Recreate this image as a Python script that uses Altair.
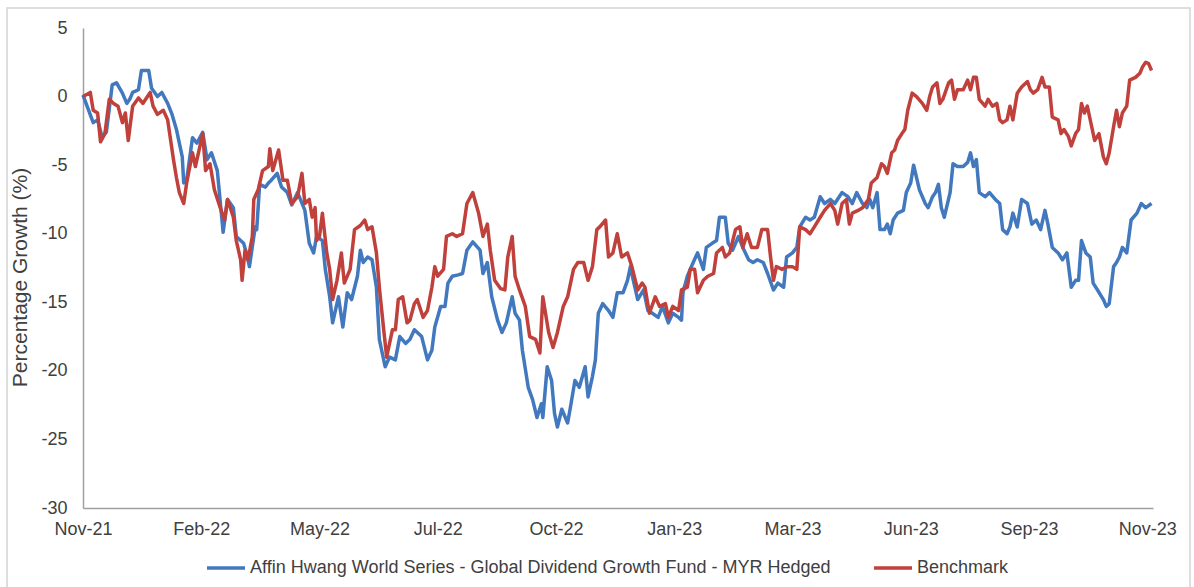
import altair as alt
import pandas as pd

FUND_NAME = "Affin Hwang World Series - Global Dividend Growth Fund - MYR Hedged"
BENCH_NAME = "Benchmark"

# (days since late Nov-2021, percentage growth)
fund = [
    (0, 0.1), (7, -1.9), (10, -1.7), (13, -2.9), (16, -2.6), (20, 0.85), (23, 1.0), (27, 0.25), (30, -0.5), (32, -0.2),
    (34, 0.3), (38, 0.5), (40, 1.9), (45, 1.9), (47, 0.6), (51, 0.0), (54, 0.3), (58, -0.5), (61, -1.3), (64, -2.4),
    (66, -3.4), (68, -4.4), (69, -6.3), (71, -6.1), (75, -3.0), (78, -3.4), (82, -2.6), (85, -4.6), (88, -4.1), (92, -5.4),
    (96, -9.9), (99, -7.5), (103, -8.1), (105, -10.2), (110, -10.7), (112, -11.4), (114, -12.4), (118, -9.5), (119, -9.7), (121, -6.4),
    (125, -6.6), (127, -6.3), (129, -6.1), (133, -5.6), (136, -6.6), (140, -7.0), (143, -7.9), (147, -7.0), (152, -8.3), (155, -10.7),
    (158, -11.4), (160, -10.2), (164, -10.5), (166, -12.6), (169, -14.6), (171, -16.5), (175, -14.6), (178, -16.8), (181, -14.3), (184, -14.8),
    (188, -13.1), (190, -11.2), (192, -12.1), (195, -11.7), (198, -11.9), (201, -13.9), (203, -17.7), (207, -19.7), (210, -19.0), (214, -19.2),
    (217, -17.5), (221, -18.0), (224, -17.7), (227, -17.0), (232, -17.5), (236, -19.2), (239, -18.5), (241, -16.8), (245, -15.3), (248, -15.3),
    (250, -13.6), (253, -13.1), (257, -13.0), (260, -12.9), (263, -11.2), (267, -10.6), (272, -11.2), (274, -12.9), (277, -12.1), (280, -14.6),
    (284, -16.3), (287, -17.2), (290, -16.5), (294, -14.6), (296, -15.8), (299, -16.3), (301, -18.5), (305, -21.2), (308, -22.1), (311, -23.4),
    (314, -22.4), (315, -23.4), (318, -19.7), (321, -20.7), (323, -23.1), (325, -24.1), (328, -22.8), (332, -23.8), (334, -22.6), (337, -20.7),
    (340, -21.2), (344, -19.7), (346, -21.9), (349, -20.4), (351, -19.2), (353, -15.8), (356, -15.1), (360, -15.6), (363, -16.1), (366, -14.3),
    (370, -14.3), (373, -13.4), (375, -12.4), (377, -13.4), (380, -14.8), (384, -14.1), (387, -15.6), (390, -15.8), (394, -16.1), (397, -15.3),
    (401, -16.5), (404, -15.8), (408, -16.1), (410, -16.3), (411, -14.3), (414, -13.1), (418, -12.1), (421, -11.4), (425, -12.6), (427, -11.0),
    (431, -10.7), (434, -10.5), (436, -8.8), (440, -8.8), (442, -10.7), (445, -11.2), (449, -10.2), (452, -11.0), (456, -11.9), (459, -12.1),
    (462, -11.9), (466, -12.1), (469, -12.9), (473, -14.1), (476, -13.6), (480, -13.9), (482, -11.7), (486, -11.4), (489, -11.0), (491, -9.5),
    (495, -8.8), (498, -9.0), (501, -8.8), (505, -7.3), (508, -7.8), (512, -7.5), (515, -7.8), (520, -7.0), (524, -7.3), (527, -7.8),
    (530, -7.0), (534, -7.8), (537, -8.1), (539, -7.5), (541, -8.1), (544, -7.0), (546, -9.7), (549, -9.7), (551, -9.3), (553, -10.0),
    (555, -9.0), (558, -8.5), (562, -8.3), (564, -7.0), (567, -6.3), (569, -5.0), (571, -5.9), (573, -6.8), (577, -7.8), (579, -8.1),
    (582, -7.3), (584, -7.0), (586, -6.4), (588, -8.1), (590, -8.8), (594, -7.0), (596, -4.9), (599, -5.1), (603, -5.1), (606, -4.8),
    (608, -4.1), (610, -5.1), (612, -4.6), (614, -7.0), (618, -7.3), (621, -7.0), (625, -7.5), (628, -7.8), (630, -9.7), (633, -10.0),
    (635, -9.5), (637, -8.5), (640, -9.5), (643, -7.5), (647, -7.8), (650, -9.3), (653, -9.0), (656, -9.7), (659, -8.3), (661, -9.3),
    (664, -11.0), (668, -11.4), (671, -11.9), (674, -11.4), (677, -13.9), (680, -13.4), (682, -13.4), (684, -10.5), (687, -11.4), (690, -11.7),
    (692, -13.6), (695, -14.1), (699, -14.8), (701, -15.3), (703, -15.1), (706, -12.4), (708, -12.1), (710, -11.7), (712, -11.0), (715, -11.4),
    (718, -9.0), (722, -8.5), (725, -7.8), (728, -8.1), (732, -7.8),
]

bench = [
    (0, 0.0), (5, 0.3), (7, -1.0), (10, -1.2), (12, -3.3), (15, -2.7), (18, -0.2), (21, -0.5), (24, -0.7), (27, -1.9),
    (29, -1.2), (31, -3.2), (34, -0.7), (38, -0.1), (41, -0.5), (46, 0.3), (48, -0.7), (51, -1.3), (55, -1.0), (58, -1.7),
    (62, -4.6), (64, -5.9), (66, -7.0), (69, -7.8), (71, -6.3), (75, -4.1), (77, -5.1), (82, -2.7), (84, -5.4), (87, -4.9),
    (90, -6.8), (94, -8.1), (97, -9.0), (99, -7.5), (103, -8.8), (105, -10.5), (108, -11.9), (109, -13.4), (111, -11.2), (113, -11.9),
    (116, -10.2), (117, -7.5), (120, -6.8), (123, -5.4), (127, -5.1), (128, -3.8), (130, -5.4), (134, -3.9), (137, -6.1), (140, -6.1),
    (143, -7.8), (147, -7.3), (150, -5.6), (152, -7.8), (155, -7.5), (157, -8.8), (159, -8.1), (160, -10.5), (162, -10.2), (164, -8.5),
    (167, -11.4), (169, -12.6), (171, -14.8), (174, -13.4), (177, -11.4), (179, -13.6), (183, -12.6), (186, -9.7), (190, -9.4), (193, -9.0),
    (195, -9.7), (198, -9.5), (201, -11.4), (203, -13.9), (206, -17.0), (208, -19.0), (212, -17.0), (214, -17.0), (216, -14.8), (219, -14.6),
    (222, -16.5), (224, -16.3), (227, -15.1), (229, -14.8), (233, -16.1), (236, -15.6), (239, -13.9), (241, -12.4), (243, -13.1), (247, -12.6),
    (249, -10.2), (253, -10.0), (256, -10.2), (260, -10.0), (263, -7.8), (267, -7.0), (271, -8.5), (274, -10.2), (277, -9.3), (279, -11.2),
    (282, -13.4), (286, -14.0), (289, -14.1), (291, -11.7), (294, -10.2), (296, -13.1), (299, -14.1), (303, -15.3), (306, -17.5), (310, -17.7),
    (313, -18.7), (315, -14.6), (319, -17.2), (322, -18.3), (325, -17.2), (329, -15.3), (332, -14.6), (336, -12.6), (339, -12.1), (343, -12.1),
    (346, -13.4), (349, -12.4), (352, -9.7), (354, -9.5), (358, -9.0), (360, -11.7), (363, -11.4), (366, -10.0), (369, -11.7), (373, -11.4),
    (376, -12.4), (380, -14.1), (383, -13.6), (385, -13.9), (388, -15.8), (392, -14.6), (395, -15.3), (399, -15.1), (401, -16.1), (404, -15.3),
    (408, -15.6), (410, -14.1), (414, -13.9), (416, -12.6), (419, -12.6), (421, -14.3), (425, -13.4), (428, -13.1), (432, -12.9), (434, -11.4),
    (438, -11.0), (440, -11.7), (443, -11.4), (447, -9.7), (450, -9.5), (452, -11.0), (455, -10.0), (458, -11.0), (462, -11.0), (465, -9.7),
    (469, -9.7), (471, -11.7), (473, -13.4), (475, -12.4), (479, -12.6), (482, -12.4), (486, -12.4), (489, -12.6), (491, -9.5), (495, -9.7),
    (498, -10.0), (501, -9.5), (505, -8.8), (508, -8.3), (512, -7.8), (515, -8.3), (517, -9.3), (520, -7.8), (523, -7.5), (525, -9.3),
    (527, -8.5), (531, -8.3), (534, -8.1), (538, -7.5), (540, -6.3), (544, -5.9), (547, -4.9), (549, -5.1), (551, -5.6), (554, -4.1),
    (556, -3.9), (558, -3.2), (561, -2.7), (563, -2.4), (565, -1.0), (568, 0.25), (571, 0.0), (575, -0.5), (578, -1.0), (580, 0.0),
    (582, 0.7), (585, 1.0), (587, -0.5), (589, -0.2), (593, 1.0), (595, 1.2), (597, -0.2), (599, 0.5), (603, 0.5), (606, 1.2),
    (608, 0.5), (610, 1.4), (612, 1.4), (614, -0.2), (618, -0.7), (620, -0.2), (623, -0.7), (626, -0.5), (628, -1.7), (630, -1.9),
    (633, -1.7), (635, -0.7), (637, -1.7), (640, 0.25), (643, 0.7), (647, 1.1), (649, 0.5), (651, 0.25), (654, 0.5), (657, 1.4),
    (659, 0.7), (662, 0.7), (664, -1.5), (668, -1.7), (670, -2.7), (672, -2.4), (675, -2.9), (677, -3.6), (680, -2.7), (682, -2.4),
    (684, -0.5), (686, -1.2), (688, -0.7), (691, -2.2), (693, -3.2), (696, -2.7), (699, -4.4), (701, -4.9), (703, -4.1), (706, -2.2),
    (708, -1.0), (710, -2.2), (712, -1.2), (715, -0.7), (717, 1.2), (721, 1.4), (724, 1.7), (726, 2.2), (728, 2.5), (730, 2.4),
    (732, 1.9),
]

tick_days = [0, 81, 162, 243, 324, 405, 486, 567, 648, 729]
tick_labels = ["Nov-21", "Feb-22", "May-22", "Jul-22", "Oct-22",
               "Jan-23", "Mar-23", "Jun-23", "Sep-23", "Nov-23"]
y_ticks = [-30, -25, -20, -15, -10, -5, 0, 5]

rows = [{"day": d, "value": v, "series": FUND_NAME} for d, v in fund] + \
       [{"day": d, "value": v, "series": BENCH_NAME} for d, v in bench]
df = pd.DataFrame(rows)

FONT = "Liberation Sans"
TEXT = "#404040"
label_js = "[" + ",".join("'%s'" % t for t in tick_labels) + "]"
label_expr = label_js + "[round(datum.value / 81)]"

lines = alt.Chart(df).mark_line(strokeWidth=3.5, strokeJoin="round").encode(
    x=alt.X("day:Q",
            scale=alt.Scale(domain=[0, 733], nice=False, zero=False),
            axis=alt.Axis(values=tick_days, labelExpr=label_expr, title=None,
                          grid=False, ticks=False, tickSize=0, labelPadding=12,
                          domainColor="#a0a0a0", domainWidth=1.5,
                          labelFont=FONT, labelFontSize=18, labelColor=TEXT,
                          labelFlush=False, labelOverlap=False)),
    y=alt.Y("value:Q",
            scale=alt.Scale(domain=[-30, 5], nice=False),
            axis=alt.Axis(values=y_ticks, title="Percentage Growth (%)",
                          labelExpr="datum.value + ''",
                          grid=False, ticks=False, tickSize=0, labelPadding=16,
                          domainColor="#a0a0a0", domainWidth=1.5,
                          labelFont=FONT, labelFontSize=18, labelColor=TEXT,
                          titleFont=FONT, titleFontSize=21, titleFontWeight="normal",
                          titleColor=TEXT, titleX=-63, titleY=249,
                          titleBaseline="middle", titleAngle=270)),
    color=alt.Color("series:N",
                    scale=alt.Scale(domain=[FUND_NAME, BENCH_NAME],
                                    range=["#4178be", "#c0403c"]),
                    legend=alt.Legend(title=None, orient="none", direction="horizontal",
                                      legendX=122, legendY=519,
                                      symbolType="stroke", symbolSize=1444,
                                      symbolStrokeWidth=3.5, labelOffset=3,
                                      columnPadding=36, labelLimit=0,
                                      labelFont=FONT, labelFontSize=18,
                                      labelColor=TEXT)),
    order=alt.Order("day:Q"),
    detail="series:N",
)

frame = alt.Chart(pd.DataFrame({"a": [0]})).mark_rect(
    filled=False, stroke="#d4d4d4", strokeWidth=1.5
).encode(
    x=alt.value(-76), x2=alt.value(1107), y=alt.value(-20), y2=alt.value(600)
)

chart = alt.layer(frame, lines).properties(
    width=1070, height=480,
    autosize=alt.AutoSizeParams(type="none"),
    padding={"left": 83, "top": 28, "right": 41, "bottom": 79},
    background="white",
).configure_view(stroke=None)

chart.save("out.html", embed_options={"renderer": "svg", "actions": False})
